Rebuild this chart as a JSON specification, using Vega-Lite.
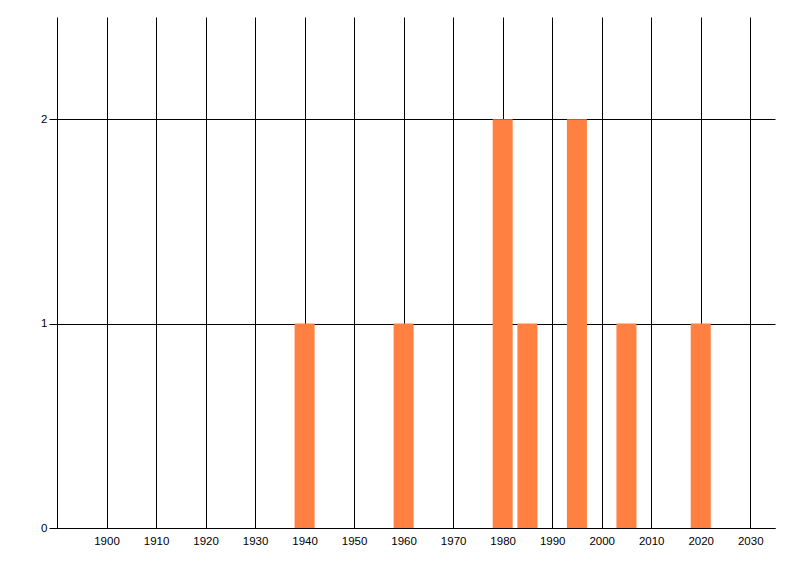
{
  "$schema": "https://vega.github.io/schema/vega-lite/v6.json",
  "width": 718,
  "height": 511,
  "autosize": {"type": "none"},
  "padding": {"left": 57, "top": 17, "right": 25, "bottom": 48},
  "background": "white",
  "config": {
    "view": {"stroke": null},
    "axis": {
      "domainColor": "black",
      "domainWidth": 1,
      "gridColor": "black",
      "gridOpacity": 1,
      "gridWidth": 1,
      "tickColor": "black",
      "tickWidth": 1,
      "labelColor": "black",
      "labelFont": "Liberation Sans",
      "labelFontSize": 11.5
    }
  },
  "data": {
    "values": [
      {"year": 1940, "count": 1},
      {"year": 1960, "count": 1},
      {"year": 1980, "count": 2},
      {"year": 1985, "count": 1},
      {"year": 1995, "count": 2},
      {"year": 2005, "count": 1},
      {"year": 2020, "count": 1}
    ]
  },
  "mark": {"type": "bar", "color": "#ff8040", "size": 20},
  "encoding": {
    "x": {
      "field": "year",
      "type": "quantitative",
      "scale": {"domain": [1890, 2035], "nice": false, "zero": false, "padding": 0},
      "axis": {
        "values": [1900, 1910, 1920, 1930, 1940, 1950, 1960, 1970, 1980, 1990, 2000, 2010, 2020, 2030],
        "format": "d",
        "title": null,
        "ticks": false,
        "labelPadding": 7,
        "grid": true,
        "labelFlush": false,
        "labelOverlap": false
      }
    },
    "y": {
      "field": "count",
      "type": "quantitative",
      "scale": {"domain": [0, 2.5], "nice": false, "padding": 0},
      "axis": {
        "values": [0, 1, 2],
        "title": null,
        "tickSize": 8,
        "labelPadding": 2,
        "grid": true,
        "format": "d"
      }
    }
  }
}
